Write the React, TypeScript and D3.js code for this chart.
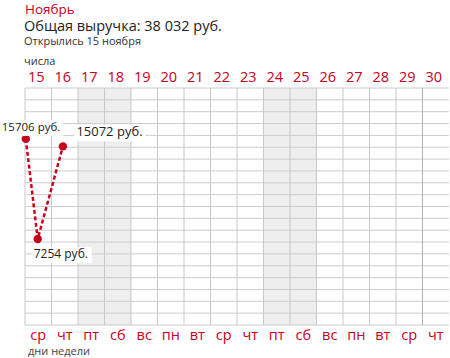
import React from "react";
import * as d3 from "d3";

// дни месяца и дни недели
const days = ["15", "16", "17", "18", "19", "20", "21", "22", "23", "24", "25", "26", "27", "28", "29", "30"];
const weekdays = ["ср", "чт", "пт", "сб", "вс", "пн", "вт", "ср", "чт", "пт", "сб", "вс", "пн", "вт", "ср", "чт"];
const weekendDays = ["17", "18", "24", "25"];

// выручка: позиция по дням (дробная) и сумма
const pointDays = [15.03, 15.48, 16.43];
const pointValues = [15706, 7254, 15072];
const pointLabels = ["15706 руб.", "7254 руб.", "15072 руб."];

const title = "Ноябрь";
const subtitle = "Общая выручка: 38 032 руб.";
const note = "Открылись 15 ноября";

const W = 450;
const H = 358;
const left = 25;
const right = 449;
const top = 88;
const bottom = 325;
const rows = 20;
const red = "#c8001e";
const font = "'Open Sans', sans-serif";

// смещения подписей относительно точек
const labelStyle = [
  { dx: -24, dy: -8, size: 11.5 },
  { dx: -4, dy: 19, size: 12 },
  { dx: 13.5, dy: -10, size: 13 },
];

export default function App() {
  const x = d3.scaleBand<string>().domain(days).range([left, right]).padding(0);
  const xDay = d3.scaleLinear().domain([15, 31]).range([left, right]);
  const y = d3.scaleLinear().domain([0, 20000]).range([bottom, top]);
  const rowY = d3.range(rows + 1).map((i) => top + ((bottom - top) * i) / rows);

  const pts = pointValues.map((v, i) => ({ x: xDay(pointDays[i]), y: y(v), label: pointLabels[i] }));
  const line = d3
    .line<{ x: number; y: number }>()
    .x((d) => d.x)
    .y((d) => d.y);

  return (
    <svg width={W} height={H} style={{ position: "absolute", left: 0, top: 0, fontFamily: font }}>
      <rect width={W} height={H} fill="#fff" />
      <text x={25} y={13.5} fontSize={13.5} fill={red}>{title}</text>
      <text x={24} y={30.5} fontSize={14.5} fill="#222">{subtitle}</text>
      <text x={24} y={45} fontSize={11} fill="#333">{note}</text>
      <text x={24} y={65} fontSize={11} fill="#333">числа</text>

      {weekendDays.map((d) => (
        <rect key={d} x={x(d)} y={top} width={x.bandwidth()} height={bottom - top} fill="#eeeeee" />
      ))}
      {rowY.map((yy, i) => (
        <line key={"r" + i} x1={left} x2={right} y1={yy} y2={yy} stroke="#cccccc" strokeWidth={1} />
      ))}
      {days.map((d) => (
        <line key={"c" + d} x1={x(d)} x2={x(d)} y1={top} y2={bottom} stroke="#c8c8c8" strokeWidth={1} />
      ))}
      <line x1={x("30")} x2={x("30")} y1={top} y2={bottom} stroke="#b0b0b0" strokeWidth={1} />

      {days.map((d) => (
        <text key={"d" + d} x={(x(d) ?? 0) + x.bandwidth() / 2 - 2} y={81.5} fontSize={14.5} fill={red} textAnchor="middle">
          {d}
        </text>
      ))}
      {weekdays.map((w, i) => (
        <text key={"w" + i} x={(x(days[i]) ?? 0) + x.bandwidth() / 2} y={340} fontSize={14.5} fill={red} textAnchor="middle">
          {w}
        </text>
      ))}
      <text x={28} y={355} fontSize={11} fill="#444">дни недели</text>

      <path d={line(pts) ?? ""} fill="none" stroke={red} strokeWidth={2.5} strokeDasharray="4,2.5" />
      {pts.map((p, i) => (
        <circle key={"p" + i} cx={p.x} cy={p.y} r={4.2} fill={red} />
      ))}
      {pts.map((p, i) => {
        const s = labelStyle[i];
        const tw = p.label.length * s.size * 0.5;
        return (
          <g key={"l" + i}>
            <rect x={p.x + s.dx - 2} y={p.y + s.dy - s.size + 1} width={tw + 6} height={s.size + 4} fill="#fff" />
            <text x={p.x + s.dx} y={p.y + s.dy} fontSize={s.size} fill="#222">
              {p.label}
            </text>
          </g>
        );
      })}
    </svg>
  );
}
